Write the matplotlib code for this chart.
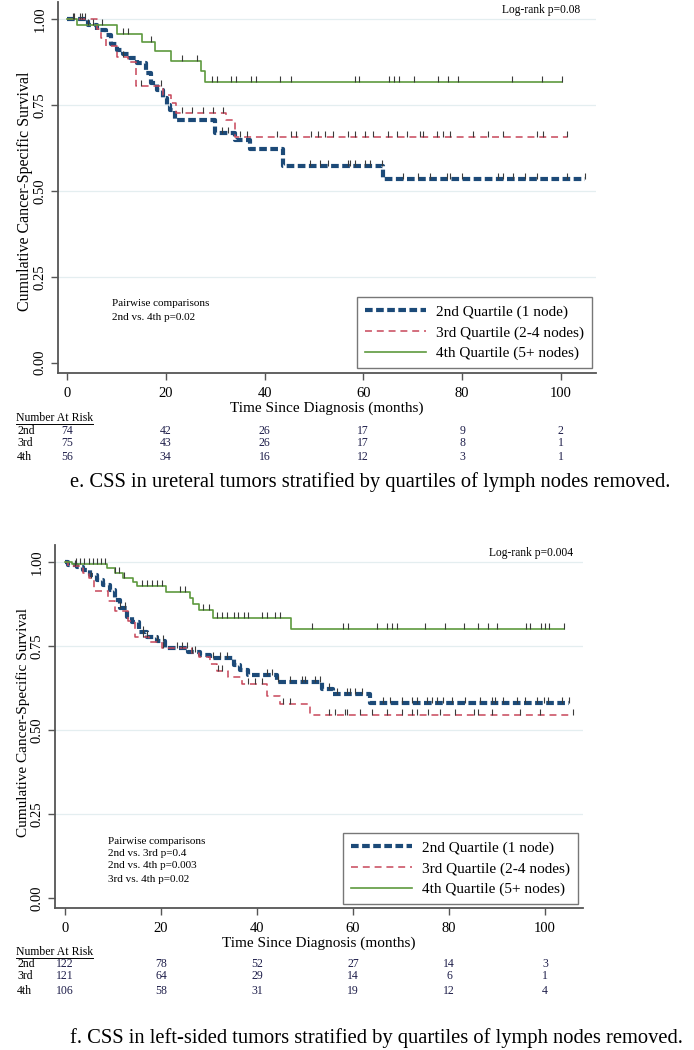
import numpy as np
import matplotlib
matplotlib.use('Agg')
import matplotlib.pyplot as plt
from matplotlib.transforms import blended_transform_factory
from matplotlib.lines import Line2D

plt.rcParams['font.family'] = ['Liberation Serif', 'DejaVu Serif']
plt.rcParams['lines.scale_dashes'] = False

# === DADOS: painel e (tumores ureterais) ===
e_t_2nd = [0, 4.3, 6.0, 8.0, 9.0, 10.1, 11.4, 12.8, 14.1, 16.1, 17.1, 18.2, 19.5, 20.2, 20.9, 21.9, 30.0, 34.0, 37.0, 43.8, 64.0]
e_s_2nd = [1.0, 0.983, 0.968, 0.953, 0.929, 0.91, 0.90, 0.886, 0.871, 0.842, 0.813, 0.794, 0.77, 0.75, 0.735, 0.706, 0.668, 0.648, 0.621, 0.574, 0.535]
e_c_2nd = [1.5, 3.0, 31.4, 32.6, 49.2, 51.2, 52.8, 56.9, 57.3, 58.3, 60.3, 61.3, 63.8, 68.0, 71.1, 73.5, 76.9,
           77.5, 80.0, 87.2, 88.3, 90.3, 92.7, 95.1, 101.2, 104.9]

e_t_3rd = [0, 6.0, 7.0, 8.0, 10.1, 12.4, 14.0, 19.5, 21.0, 22.1, 32.3, 34.0]
e_s_3rd = [1.0, 0.972, 0.944, 0.922, 0.89, 0.874, 0.805, 0.78, 0.755, 0.728, 0.706, 0.658]
e_c_3rd = [2.6, 3.6, 11.4, 15.1, 19.0, 23.2, 25.4, 27.6, 29.6, 31.5, 35.0, 36.4, 42.5, 45.3, 46.4, 49.5, 50.9,
           52.2, 53.9, 56.9, 58.3, 60.3, 61.9, 65.0, 66.8, 68.8, 71.5, 72.1, 74.9, 76.1, 77.5, 82.2, 85.2,
           88.3, 95.1, 96.4, 101.2]

e_t_4th = [0, 2.0, 10.1, 15.2, 17.8, 21.0, 27.1, 27.9]
e_s_4th = [1.0, 0.982, 0.958, 0.933, 0.907, 0.878, 0.849, 0.818]
e_c_4th = [1.15, 4.2, 5.2, 7.2, 11.4, 12.3, 17.1, 23.2, 26.3, 29.3, 30.3, 33.2, 34.2, 37.2, 38.3, 43.1, 45.3,
           58.3, 59.1, 65.2, 66.2, 67.2, 70.2, 75.1, 77.1, 79.1, 90.1, 96.2, 100.2]

e_risco_2nd = [74, 42, 26, 17, 9, 2]
e_risco_3rd = [75, 43, 26, 17, 8, 1]
e_risco_4th = [56, 34, 16, 12, 3, 1]

# === DADOS: painel f (tumores do lado esquerdo) ===
f_t_2nd = [0, 0.7, 2.4, 3.8, 5.2, 6.6, 8.0, 9.4, 10.4, 11.5, 12.9, 13.9, 15.3, 17.0, 19.1, 20.8, 25.7, 28.1,
           30.2, 35.1, 36.5, 38.2, 44.1, 53.5, 55.9, 63.5]
f_s_2nd = [1.0, 0.99, 0.986, 0.976, 0.961, 0.946, 0.931, 0.917, 0.887, 0.862, 0.837, 0.822, 0.792, 0.777,
           0.765, 0.743, 0.733, 0.723, 0.713, 0.693, 0.678, 0.663, 0.643, 0.623, 0.608, 0.581]
f_c_2nd = [11.5, 12.5, 16.3, 17.0, 19.1, 20.5, 23.3, 24.3, 27.1, 30.9, 32.3, 33.7, 42.0, 43.1, 44.4, 46.9,
           49.3, 50.0, 52.1, 53.1, 54.9, 56.6, 58.7, 59.4, 60.4, 61.8, 66.3, 67.7, 70.1, 72.2, 73.3, 75.4,
           76.4, 77.4, 78.8, 80.6, 83.3, 86.5, 88.9, 89.6, 91.3, 94.1, 95.8, 98.3, 99.7, 100.7, 103.5, 104.9]

f_t_3rd = [0, 0.7, 3.8, 4.9, 6.0, 9.0, 10.4, 13.2, 14.6, 17.4, 20.1, 26.4, 27.8, 30.2, 31.6, 34.0, 36.8,
           42.0, 44.8, 51.0]
f_s_3rd = [1.0, 0.988, 0.968, 0.952, 0.914, 0.884, 0.854, 0.824, 0.775, 0.760, 0.745, 0.730, 0.716, 0.696,
           0.676, 0.657, 0.637, 0.602, 0.578, 0.543]
f_c_3rd = [2.0, 5.5, 16.3, 20.5, 25.4, 26.4, 31.9, 32.6, 38.2, 39.6, 41.0, 45.5, 46.9, 54.9, 56.3, 58.3,
           58.7, 61.5, 63.9, 67.0, 70.1, 72.2, 73.3, 75.7, 78.1, 81.3, 85.1, 86.1, 88.9, 94.8, 98.9, 105.9]

f_t_4th = [0, 1.4, 8.8, 10.4, 12.0, 14.2, 14.9, 21.0, 26.0, 26.7, 27.9, 30.8, 47.0]
f_s_4th = [1.0, 0.993, 0.981, 0.966, 0.953, 0.941, 0.927, 0.910, 0.892, 0.874, 0.857, 0.834, 0.80]
f_c_4th = [2.3, 3.1, 4.0, 4.9, 5.8, 6.6, 7.5, 8.3, 10.4, 11.3, 12.2, 16.0, 17.0, 18.1, 19.1, 20.1, 24.0,
           25.0, 28.8, 29.9, 31.6, 32.6, 33.7, 35.1, 36.1, 37.2, 38.2, 41.0, 42.0, 43.8, 44.8, 51.4, 58.0,
           59.0, 64.9, 67.0, 68.1, 69.1, 75.0, 79.2, 83.1, 86.1, 88.1, 89.9, 96.0, 96.9, 99.2, 100.0, 100.9, 104.0]

f_risco_2nd = [122, 78, 52, 27, 14, 3]
f_risco_3rd = [121, 64, 29, 14, 6, 1]
f_risco_4th = [106, 58, 31, 19, 12, 4]

tempos_risco = [0, 20, 40, 60, 80, 100]
rotulos = ['2nd Quartile (1 node)', '3rd Quartile (2-4 nodes)', '4th Quartile (5+ nodes)']

# === ESTILOS ===
COR_AZUL = '#1c4a78'
COR_VERM = '#c8475a'
COR_VERDE = '#5e9a3e'
estilos = [
    dict(color=COR_AZUL, lw=3.0, dashes=(5.5, 2.5)),
    dict(color=COR_VERM, lw=1.1, dashes=(5, 3.5)),
    dict(color=COR_VERDE, lw=1.2, linestyle='-'),
]

W, H = 694, 1050
fig = plt.figure(figsize=(W / 100, H / 100), dpi=100)


def eixo_px(esq, dir_, topo, base):
    return fig.add_axes([esq / W, 1 - base / H, (dir_ - esq) / W, (base - topo) / H])


def desenha_painel(ax, curvas, xlim, logrank, pares, y_pares, x_pares, riscos, y_tab, legenda_box,
                   legenda, y_label_pos, fs_ylab):
    ax.set_xlim(*xlim)
    ax.set_ylim(-0.03, 1.05)
    for sp in ['top', 'right']:
        ax.spines[sp].set_visible(False)
    for sp in ['left', 'bottom']:
        ax.spines[sp].set_color('#555555')
        ax.spines[sp].set_linewidth(1.3)
    for yv in [0.25, 0.5, 0.75, 1.0]:
        ax.axhline(yv, color='#e4eef0', lw=0.9, zorder=0)

    handles = []
    for (t, s, c), st in zip(curvas, estilos):
        t = list(t)
        s = list(s)
        fim = max(c)
        tt = t + [fim]
        ss = s + [s[-1]]
        kw = dict(st)
        ls = kw.pop('dashes', None)
        ln, = ax.step(tt, ss, where='post', zorder=3, **kw)
        if ls is not None:
            ln.set_dashes(ls)
        handles.append(ln)
        idx = np.searchsorted(t, c, side='right') - 1
        yc = np.array(s)[idx]
        ax.plot(c, yc, linestyle='none', marker=2, markersize=4.5, markeredgewidth=0.8,
                color='#3a3a3a', zorder=4)

    ax.set_xticks(tempos_risco)
    ax.set_yticks([0, 0.25, 0.5, 0.75, 1.0])
    ax.set_yticklabels(['0.00', '0.25', '0.50', '0.75', '1.00'], rotation=90, va='center')
    ax.tick_params(axis='both', labelsize=10.5, length=5, width=1, color='#555555', pad=5)
    ax.tick_params(axis='y', pad=3)
    ax.set_xlabel('Time Since Diagnosis (months)', fontsize=11, labelpad=1)
    ax.set_ylabel('Cumulative Cancer-Specific Survival', fontsize=fs_ylab)
    ax.yaxis.set_label_coords(*y_label_pos)

    fig.text(logrank[1] / W, 1 - logrank[2] / H, logrank[0], fontsize=8.3, ha='right', va='center')
    for i, linha in enumerate(pares):
        fig.text(x_pares / W, 1 - y_pares[i] / H, linha, fontsize=8, ha='left', va='center')

    leg = ax.legend(handles, legenda, loc='lower right', fontsize=11, handlelength=4.0,
                    handletextpad=0.7, labelspacing=0.45, borderpad=0.5, borderaxespad=0,
                    fancybox=False, frameon=True,
                    bbox_to_anchor=(legenda_box[0] / W, 1 - legenda_box[1] / H),
                    bbox_transform=fig.transFigure)
    leg.get_frame().set_edgecolor('#555555')
    leg.get_frame().set_linewidth(1.0)

    # Tabela de número em risco
    trans = blended_transform_factory(ax.transData, fig.transFigure)
    tit = fig.text(16 / W, 1 - y_tab[0] / H, 'Number At Risk', fontsize=8.5, ha='left', va='center')
    r = fig.canvas.get_renderer()
    bb = tit.get_window_extent(renderer=r)
    fig.add_artist(Line2D([bb.x0 / W, bb.x1 / W], [(bb.y0 + 0.5) / H, (bb.y0 + 0.5) / H],
                          transform=fig.transFigure, color='black', lw=0.7))
    for (nome, valores), yy in zip(riscos, y_tab[1:]):
        fig.text(17 / W, 1 - yy / H, nome, fontsize=8.5, ha='left', va='center')
        for tx, v in zip(tempos_risco, valores):
            ax.text(tx, 1 - yy / H, str(v), transform=trans, fontsize=8.5, ha='center',
                    va='center', color='#1e1e4a')


# === PAINEL e ===
ax1 = eixo_px(58, 596, 2, 373)
desenha_painel(
    ax1,
    [(e_t_2nd, e_s_2nd, e_c_2nd), (e_t_3rd, e_s_3rd, e_c_3rd), (e_t_4th, e_s_4th, e_c_4th)],
    (-1.8, 107.1),
    ('Log-rank p=0.08', 580, 10),
    ['Pairwise comparisons', '2nd vs. 4th p=0.02'], [303, 317], 112,
    [('2nd', e_risco_2nd), ('3rd', e_risco_3rd), ('4th', e_risco_4th)],
    [418, 431, 443, 457],
    (592, 368), rotulos, (-0.046, 0.49), 11.5)
fig.text(70 / W, 1 - 482 / H,
         'e. CSS in ureteral tumors stratified by quartiles of lymph nodes removed.',
         fontsize=14.8, ha='left', va='center')

# === PAINEL f ===
ax2 = eixo_px(55, 583, 545, 908)
desenha_painel(
    ax2,
    [(f_t_2nd, f_s_2nd, f_c_2nd), (f_t_3rd, f_s_3rd, f_c_3rd), (f_t_4th, f_s_4th, f_c_4th)],
    (-2.1, 107.9),
    ('Log-rank p=0.004', 573, 553),
    ['Pairwise comparisons', '2nd vs. 3rd p=0.4', '2nd vs. 4th p=0.003', '3rd vs. 4th p=0.02'],
    [842, 854, 866, 880], 108,
    [('2nd', f_risco_2nd), ('3rd', f_risco_3rd), ('4th', f_risco_4th)],
    [952, 964, 976, 991],
    (578, 904), rotulos, (-0.048, 0.51), 11)
fig.text(70 / W, 1 - 1038 / H,
         'f. CSS in left-sided tumors stratified by quartiles of lymph nodes removed.',
         fontsize=14.8, ha='left', va='center')

plt.savefig('out.png', dpi=100)
